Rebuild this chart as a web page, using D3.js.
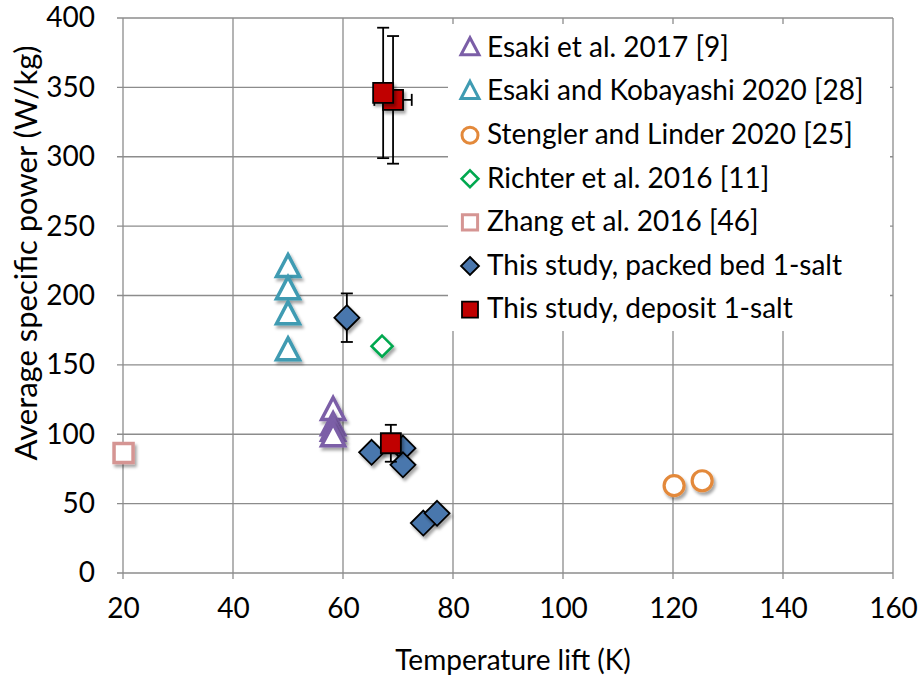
<!DOCTYPE html>
<html><head><meta charset="utf-8">
<script src="https://cdn.jsdelivr.net/npm/d3@7"></script>
<style>body{margin:0;background:#fff}svg{display:block}text{font-family:Lato,"Open Sans",sans-serif;fill:#000}</style>
</head><body>
<script>
// ---- data ----
const xTicks = [20, 40, 60, 80, 100, 120, 140, 160];
const yTicks = [0, 50, 100, 150, 200, 250, 300, 350, 400];
const seriesNames = ["Esaki et al. 2017 [9]", "Esaki and Kobayashi 2020 [28]", "Stengler and Linder 2020 [25]",
  "Richter et al. 2016 [11]", "Zhang et al. 2016 [46]", "This study, packed bed 1-salt", "This study, deposit 1-salt"];
const esaki2017X = [58.2, 58.2, 58.2, 58.2];
const esaki2017Y = [117, 106, 102, 98];
const esakiKob2020X = [50, 50, 50, 50];
const esakiKob2020Y = [220, 204, 186, 160];
const stenglerX = [120.2, 125.3];
const stenglerY = [63, 66.5];
const richterX = [67.1];
const richterY = [163.5];
const zhangX = [20.1];
const zhangY = [86.5];
const packedX = [60.7, 65.2, 70.9, 70.9, 74.6, 77.1];
const packedY = [184, 87, 90, 78, 36, 43];
const packedYErr = [17.5, 0, 0, 0, 0, 0];
const depositX = [69.1, 67.3, 68.7];
const depositY = [341, 346, 93.5];
const depositYErr = [46, 47, 13.3];
const depositXErr = [3.4, 0, 0];

const W = 922, H = 681;
const m = {l: 123, r: 893, t: 18, b: 573};
const FS = 28;
const svg = d3.select("body").append("svg").attr("width", W).attr("height", H);
const defs = svg.append("defs");
const f = defs.append("filter").attr("id", "sh").attr("x", "-50%").attr("y", "-50%").attr("width", "200%").attr("height", "200%");
f.append("feDropShadow").attr("dx", 2).attr("dy", 3).attr("stdDeviation", 1.6).attr("flood-color", "#000").attr("flood-opacity", 0.35);

const x = d3.scaleLinear().domain([20, 160]).range([m.l, m.r]);
const y = d3.scaleLinear().domain([0, 400]).range([m.b, m.t]);

// grid
const grid = svg.append("g");
grid.selectAll("line.v").data(xTicks).join("line")
  .attr("x1", d => x(d)).attr("x2", d => x(d)).attr("y1", m.t).attr("y2", m.b + 6)
  .attr("stroke", "#8c8c8c").attr("stroke-width", 1.3);
grid.selectAll("line.h").data(yTicks).join("line")
  .attr("x1", m.l - 6).attr("x2", m.r).attr("y1", d => y(d)).attr("y2", d => y(d))
  .attr("stroke", "#8c8c8c").attr("stroke-width", 1.3);

// axes (labels only; lines drawn as grid)
const xa = svg.append("g").attr("transform", `translate(0,${m.b})`)
  .call(d3.axisBottom(x).tickValues(xTicks).tickSize(0).tickPadding(25).tickFormat(d3.format("d")));
xa.select(".domain").remove();
xa.selectAll("text").attr("font-size", FS).style("font-family", "Lato");
const ya = svg.append("g").attr("transform", `translate(${m.l},0)`)
  .call(d3.axisLeft(y).tickValues(yTicks).tickSize(0).tickPadding(28).tickFormat(d3.format("d")));
ya.select(".domain").remove();
ya.selectAll("text").attr("font-size", FS).style("font-family", "Lato");

svg.append("text").attr("x", 513).attr("y", 670).attr("text-anchor", "middle").attr("font-size", FS).text("Temperature lift (K)");
svg.append("text").attr("transform", "translate(37,253) rotate(-90)").attr("text-anchor", "middle").attr("font-size", 31)
  .text("Average specific power (W/kg)");

// legend background
svg.append("rect").attr("x", 448).attr("y", 24).attr("width", 442).attr("height", 307).attr("fill", "#fff");

function triPath(s) { const h = s * 0.95; return `M0,${-h*0.6}L${s/2},${h*0.4}L${-s/2},${h*0.4}Z`; }
function diaPath(s) { const r = s / 2; return `M0,${-r}L${r},0L0,${r}L${-r},0Z`; }
function sqPath(s) { const r = s / 2; return `M${-r},${-r}H${r}V${r}H${-r}Z`; }
function circPath(s) { const r = s / 2; return `M${r},0A${r},${r} 0 1,1 ${-r},0A${r},${r} 0 1,1 ${r},0Z`; }

const series = [
  {xs: esaki2017X, ys: esaki2017Y, path: triPath, size: 23, fill: "#fff", stroke: "#7b5ea7", sw: 3.5},
  {xs: esakiKob2020X, ys: esakiKob2020Y, path: triPath, size: 23, fill: "#fff", stroke: "#3f9bb2", sw: 3.5},
  {xs: stenglerX, ys: stenglerY, path: circPath, size: 20, fill: "#fff", stroke: "#e3893b", sw: 3.2},
  {xs: richterX, ys: richterY, path: diaPath, size: 21, fill: "#fff", stroke: "#00a84f", sw: 2.6},
  {xs: zhangX, ys: zhangY, path: sqPath, size: 19, fill: "#fff", stroke: "#d59593", sw: 3.5},
  {xs: packedX, ys: packedY, yerr: packedYErr, path: diaPath, size: 25, fill: "#4a77ad", stroke: "#000", sw: 1.8},
  {xs: depositX, ys: depositY, yerr: depositYErr, xerr: depositXErr, path: sqPath, size: 20, fill: "#c00000", stroke: "#000", sw: 1.8}
];

const plot = svg.append("g");
series.forEach(s => {
  const g = plot.append("g");
  const pts = s.xs.map((xv, i) => ({x: xv, y: s.ys[i], ye: s.yerr ? s.yerr[i] : 0, xe: s.xerr ? s.xerr[i] : 0}));
  pts.forEach(p => {
    if (p.ye > 0) {
      const cx = x(p.x);
      g.append("line").attr("x1", cx).attr("x2", cx).attr("y1", y(p.y + p.ye)).attr("y2", y(p.y - p.ye)).attr("stroke", "#000").attr("stroke-width", 1.8);
      [p.y + p.ye, p.y - p.ye].forEach(v => g.append("line").attr("x1", cx - 6).attr("x2", cx + 6).attr("y1", y(v)).attr("y2", y(v)).attr("stroke", "#000").attr("stroke-width", 1.8));
    }
    if (p.xe > 0) {
      const cy = y(p.y);
      g.append("line").attr("x1", x(p.x - p.xe)).attr("x2", x(p.x + p.xe)).attr("y1", cy).attr("y2", cy).attr("stroke", "#000").attr("stroke-width", 1.8);
      [p.x - p.xe, p.x + p.xe].forEach(v => g.append("line").attr("x1", x(v)).attr("x2", x(v)).attr("y1", cy - 6).attr("y2", cy + 6).attr("stroke", "#000").attr("stroke-width", 1.8));
    }
  });
  g.selectAll("path.pt").data(pts).join("path").attr("class", "pt")
    .attr("d", s.path(s.size))
    .attr("transform", p => `translate(${x(p.x)},${y(p.y)})`)
    .attr("fill", s.fill).attr("stroke", s.stroke).attr("stroke-width", s.sw)
    .attr("stroke-linejoin", "miter").attr("filter", "url(#sh)");
});

// legend
const lg = svg.append("g");
const rowY = d3.range(seriesNames.length).map(i => 47 + i * 43.6);
series.forEach((s, i) => {
  const ls = Math.min(s.size * 0.8, 18);
  lg.append("path").attr("d", s.path(ls)).attr("transform", `translate(470,${rowY[i] + 1})`)
    .attr("fill", s.fill).attr("stroke", s.stroke).attr("stroke-width", Math.min(s.sw, 3));
  lg.append("text").attr("x", 487).attr("y", rowY[i]).attr("dy", "0.35em").attr("font-size", FS).text(seriesNames[i]);
});
</script>
</body></html>
